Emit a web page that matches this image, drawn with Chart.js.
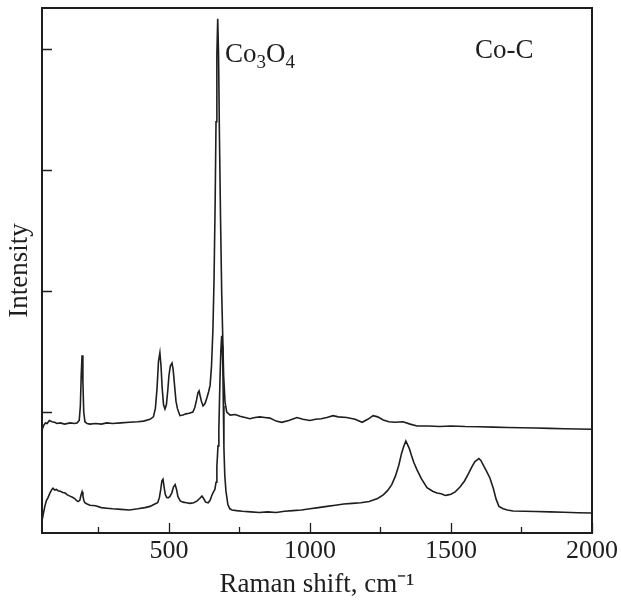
<!DOCTYPE html>
<html>
<head>
<meta charset="utf-8">
<script src="https://cdn.jsdelivr.net/npm/chart.js@4/dist/chart.umd.min.js"></script>
<style>
html,body{margin:0;padding:0;background:#fff;}
#wrap{width:621px;height:607px;position:relative;}
</style>
</head>
<body>
<div id="wrap"><canvas id="c" width="621" height="607"></canvas></div>
<script>
// ---- data ----
const co3o4Shift = [50,56,62,68,76,85,95,103,115,130,150,165,174,182,186,189,192,195,198,202,210,220,240,260,280,300,330,360,390,410,433,445,452,458,463,468,472,476,481,486,491,496,500,505,511,515,520,525,530,539,550,560,572,585,592,598,603,607,611,615,621,628,635,641,646,651,656,660,664,667,670,673,676,679,683,687,690,694,699,705,717,735,752,770,787,805,822,840,858,880,900,925,954,975,1000,1020,1040,1060,1082,1100,1130,1160,1185,1205,1224,1240,1260,1280,1300,1330,1355,1380,1420,1460,1500,1550,1600,1650,1700,1750,1800,1850,1900,1950,2000];
const co3o4Intensity = [0.85,0.89,0.91,0.905,0.93,0.92,0.915,0.905,0.91,0.9,0.91,0.905,0.91,0.93,1.05,1.3,1.47,1.25,1.0,0.92,0.905,0.9,0.905,0.9,0.91,0.905,0.91,0.915,0.92,0.925,0.94,0.96,1.03,1.2,1.42,1.49,1.38,1.2,1.06,1.025,1.06,1.18,1.3,1.38,1.405,1.35,1.22,1.09,1.03,0.97,0.975,0.985,0.99,1.0,1.04,1.1,1.16,1.175,1.13,1.09,1.05,1.07,1.12,1.17,1.22,1.38,1.68,2.1,2.75,3.4,3.95,4.25,3.95,3.3,2.6,2.0,1.7,1.3,1.08,1.0,0.975,0.98,0.965,0.955,0.945,0.955,0.96,0.955,0.95,0.925,0.915,0.93,0.955,0.94,0.93,0.94,0.945,0.955,0.97,0.96,0.955,0.94,0.915,0.94,0.97,0.96,0.935,0.92,0.915,0.92,0.9,0.885,0.885,0.88,0.885,0.88,0.878,0.875,0.872,0.87,0.868,0.865,0.862,0.86,0.858];

const coCShift = [50,54,60,66,71,78,85,89,95,101,107,115,124,132,140,149,158,166,172,178,184,188,192,195,198,202,210,220,240,260,280,300,330,360,390,415,433,450,460,466,471,475,479,483,487,492,497,503,510,516,522,527,532,540,550,562,575,588,600,609,617,623,630,639,646,652,658,663,667,670,674,677,681,684,687,689,691,693,695,698,702,709,716,724,740,760,790,820,850,880,910,940,970,1000,1030,1060,1090,1120,1150,1180,1210,1240,1260,1275,1290,1303,1315,1325,1333,1340,1346,1352,1360,1368,1380,1395,1415,1435,1450,1465,1480,1490,1500,1515,1532,1548,1562,1575,1585,1593,1599,1606,1615,1625,1638,1650,1660,1670,1685,1700,1720,1760,1800,1850,1900,1950,2000];
const coCIntensity = [0.1,0.15,0.22,0.27,0.29,0.33,0.36,0.37,0.355,0.36,0.35,0.345,0.335,0.33,0.315,0.305,0.295,0.285,0.27,0.26,0.27,0.31,0.34,0.31,0.27,0.25,0.24,0.23,0.225,0.21,0.205,0.2,0.195,0.19,0.2,0.21,0.22,0.24,0.25,0.29,0.36,0.43,0.445,0.38,0.32,0.295,0.29,0.3,0.33,0.38,0.4,0.36,0.3,0.265,0.255,0.25,0.245,0.25,0.265,0.285,0.305,0.285,0.255,0.25,0.27,0.31,0.34,0.36,0.42,0.55,0.72,0.85,1.27,1.5,1.63,1.55,1.4,1.05,0.7,0.48,0.35,0.235,0.2,0.19,0.185,0.18,0.175,0.17,0.175,0.17,0.18,0.185,0.19,0.2,0.21,0.22,0.23,0.24,0.245,0.25,0.26,0.285,0.315,0.35,0.4,0.47,0.56,0.66,0.72,0.76,0.73,0.7,0.64,0.585,0.52,0.45,0.375,0.345,0.33,0.325,0.31,0.315,0.32,0.34,0.38,0.43,0.49,0.55,0.59,0.605,0.615,0.6,0.56,0.515,0.455,0.37,0.28,0.22,0.2,0.19,0.182,0.18,0.178,0.175,0.172,0.168,0.165];

const xTickLabels = [500, 1000, 1500, 2000];
const xMinorTicks = [250, 750, 1250, 1750];
const yTicks = [1, 2, 3, 4];
const xTitle = 'Raman shift, cm\u207B\u00B9';
const yTitle = 'Intensity';

const SERIF = '"Liberation Serif", "Times New Roman", serif';
const INK = '#1e1e1e';

function pairs(xs, ys){ return xs.map((x,i)=>({x:x, y:ys[i]})); }

const framePlugin = {
  id: 'frame',
  afterDraw(chart){
    const {ctx, chartArea:a, scales:{x, y}} = chart;
    ctx.save();
    ctx.strokeStyle = INK;
    ctx.lineWidth = 2;
    ctx.strokeRect(a.left, a.top, a.right - a.left, a.bottom - a.top);
    ctx.lineWidth = 1.3;
    ctx.beginPath();
    yTicks.forEach(v=>{ const py = Math.round(y.getPixelForValue(v)) + 0.5; ctx.moveTo(a.left, py); ctx.lineTo(a.left + 10, py); });
    xTickLabels.forEach(v=>{ const px = Math.round(x.getPixelForValue(v)) + 0.5; ctx.moveTo(px, a.bottom); ctx.lineTo(px, a.bottom - 10); });
    xMinorTicks.forEach(v=>{ const px = Math.round(x.getPixelForValue(v)) + 0.5; ctx.moveTo(px, a.bottom); ctx.lineTo(px, a.bottom - 6); });
    ctx.stroke();

    // annotations
    ctx.fillStyle = INK;
    ctx.textBaseline = 'alphabetic';
    ctx.textAlign = 'left';
    let px = 225;
    const parts = [['Co',27,0],['3',19,6],['O',27,0],['4',19,6]];
    parts.forEach(([t,s,dy])=>{
      ctx.font = s + 'px ' + SERIF;
      ctx.fillText(t, px, 62 + dy);
      px += ctx.measureText(t).width;
    });
    ctx.font = '27px ' + SERIF;
    ctx.fillText('Co-C', 475, 58);
    ctx.restore();
  }
};

new Chart(document.getElementById('c'), {
  type: 'line',
  data: {
    datasets: [
      { label: 'Co3O4', data: pairs(co3o4Shift, co3o4Intensity), borderColor: INK, borderWidth: 1.6, pointRadius: 0, tension: 0, fill: false },
      { label: 'Co-C', data: pairs(coCShift, coCIntensity), borderColor: INK, borderWidth: 1.6, pointRadius: 0, tension: 0, fill: false }
    ]
  },
  options: {
    responsive: false,
    animation: false,
    layout: { padding: { top: 8, right: 29, left: 0, bottom: 0 } },
    plugins: { legend: { display: false }, tooltip: { enabled: false } },
    scales: {
      x: {
        type: 'linear', min: 50, max: 2000,
        afterBuildTicks(scale){ scale.ticks = xTickLabels.map(v=>({value:v})); },
        afterFit(scale){ scale.height = 74; },
        grid: { display: false, drawTicks: false },
        border: { display: false },
        ticks: { color: INK, font: { family: SERIF, size: 26 }, padding: 3, maxRotation: 0, autoSkip: false,
                 callback: (v)=>String(v) },
        title: { display: true, text: xTitle, color: INK, font: { family: SERIF, size: 27 }, padding: { top: 0, bottom: 6 } }
      },
      y: {
        type: 'linear', min: 0, max: 4.34,
        afterFit(scale){ scale.width = 42; },
        grid: { display: false, drawTicks: false },
        border: { display: false },
        ticks: { display: false },
        title: { display: true, text: yTitle, color: INK, font: { family: SERIF, size: 27 }, padding: { top: 4, bottom: 0 } }
      }
    }
  },
  plugins: [framePlugin]
});
</script>
</body>
</html>
